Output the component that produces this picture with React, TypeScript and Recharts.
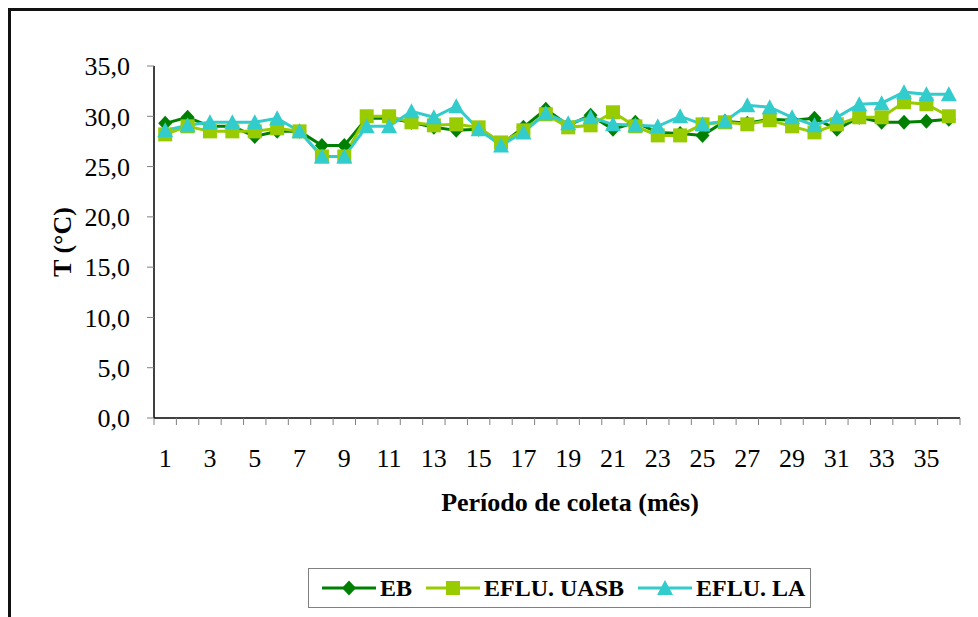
import { LineChart, Line, XAxis, YAxis, Label } from 'recharts'

const months = [
  1, 2, 3, 4, 5, 6, 7, 8, 9, 10, 11, 12, 13, 14, 15, 16, 17, 18,
  19, 20, 21, 22, 23, 24, 25, 26, 27, 28, 29, 30, 31, 32, 33, 34, 35, 36,
]

const eb = [
  29.3, 29.9, 29.0, 29.0, 28.0, 28.5, 28.5, 27.1, 27.1, 29.8, 29.8, 29.4,
  28.9, 28.6, 28.7, 27.2, 28.9, 30.7, 29.1, 30.1, 28.7, 29.4, 28.4, 28.3,
  28.1, 29.5, 29.3, 29.7, 29.6, 29.8, 28.7, 29.9, 29.4, 29.4, 29.5, 29.7,
]

const efluUasb = [
  28.2, 29.0, 28.5, 28.5, 28.5, 28.8, 28.5, 26.0, 26.0, 30.0, 30.0, 29.4,
  29.1, 29.2, 28.9, 27.4, 28.6, 30.2, 28.9, 29.1, 30.4, 29.0, 28.1, 28.1,
  29.2, 29.4, 29.2, 29.6, 29.0, 28.4, 29.2, 29.9, 29.9, 31.4, 31.2, 30.0,
]

const efluLa = [
  28.6, 29.1, 29.4, 29.4, 29.4, 29.8, 28.5, 26.0, 26.0, 29.0, 29.0, 30.5,
  29.9, 31.0, 28.7, 27.1, 28.4, 30.3, 29.3, 29.9, 29.2, 29.1, 29.0, 30.0,
  29.2, 29.5, 31.1, 30.9, 29.9, 29.1, 29.9, 31.2, 31.3, 32.4, 32.2, 32.2,
]

const xLabelTicks = [1, 3, 5, 7, 9, 11, 13, 15, 17, 19, 21, 23, 25, 27, 29, 31, 33, 35]
const yTicks = [0, 5, 10, 15, 20, 25, 30, 35]

const data = months.map((m, i) => ({ mes: m, eb: eb[i], uasb: efluUasb[i], la: efluLa[i] }))

// tick marks sit between the categories, labels on every other category
const boundaryTicks = [...months.map((m) => m - 0.5), months[months.length - 1] + 0.5]
const xTicks = [...boundaryTicks, ...xLabelTicks]

const FONT = '"Liberation Serif", "Times New Roman", serif'

type Shape = 'diamond' | 'square' | 'triangle'

const series: { key: string; name: string; color: string; shape: Shape }[] = [
  { key: 'eb', name: 'EB', color: '#008000', shape: 'diamond' },
  { key: 'uasb', name: 'EFLU. UASB', color: '#99CC00', shape: 'square' },
  { key: 'la', name: 'EFLU. LA', color: '#33CCCC', shape: 'triangle' },
]

function marker(shape: Shape, cx: number, cy: number, color: string, key?: any) {
  if (shape === 'diamond') {
    return (
      <path
        key={key}
        d={`M${cx},${cy - 7.5}L${cx + 7},${cy}L${cx},${cy + 7.5}L${cx - 7},${cy}Z`}
        fill={color}
      />
    )
  }
  if (shape === 'square') {
    return <rect key={key} x={cx - 7} y={cy - 7} width={14} height={14} fill={color} />
  }
  return (
    <path
      key={key}
      d={`M${cx},${cy - 8}L${cx + 8},${cy + 7}L${cx - 8},${cy + 7}Z`}
      fill={color}
    />
  )
}

function XTick(props: any) {
  const { x, y, payload } = props
  const v = payload.value
  if (Number.isInteger(v)) {
    return (
      <text x={x} y={y + 49} textAnchor="middle" fontFamily={FONT} fontSize={26} fill="#000">
        {v}
      </text>
    )
  }
  return <line x1={x} x2={x} y1={y} y2={y + 7} stroke="#808080" strokeWidth={1} />
}

function ChartLegend() {
  return (
    <div
      style={{
        position: 'absolute',
        left: 308,
        top: 568,
        width: 503,
        height: 40,
        border: '1px solid #808080',
        background: '#fff',
        display: 'flex',
        alignItems: 'center',
        paddingLeft: 13,
        boxSizing: 'border-box',
        fontFamily: FONT,
        fontWeight: 'bold',
        fontSize: 24,
        color: '#000',
        whiteSpace: 'nowrap',
        overflow: 'visible',
      }}
    >
      {series.map((s) => (
        <div
          key={s.key}
          style={{ display: 'flex', alignItems: 'center', marginRight: 14, flexShrink: 0 }}
        >
          <svg width={54} height={20} style={{ marginRight: 4, flexShrink: 0 }}>
            <line x1={0} x2={54} y1={10} y2={10} stroke={s.color} strokeWidth={3} />
            {marker(s.shape, 27, 10, s.color)}
          </svg>
          <span>{s.name}</span>
        </div>
      ))}
    </div>
  )
}

export default function App() {
  return (
    <div style={{ position: 'relative', width: 978, height: 617, overflow: 'hidden', background: '#fff' }}>
      <style>{`body{margin:0}`}</style>
      <div
        style={{
          position: 'absolute',
          left: 8,
          top: 8,
          width: 1100,
          height: 800,
          border: '3px solid #111',
        }}
      />
      <div style={{ position: 'absolute', left: 0, top: 0 }}>
        <LineChart
          width={978}
          height={617}
          data={data}
          margin={{ top: 66, right: 18, left: 84, bottom: 139 }}
        >
          <XAxis
            dataKey="mes"
            type="number"
            domain={[0.5, 36.5]}
            ticks={xTicks}
            interval={0}
            tickSize={0}
            tickMargin={0}
            tickLine={false}
            tick={<XTick />}
            axisLine={{ stroke: '#000', strokeWidth: 1.5 }}
            height={60}
          >
            <Label
              content={() => (
                <text
                  x={570}
                  y={511}
                  textAnchor="middle"
                  fontFamily={FONT}
                  fontWeight="bold"
                  fontSize={26}
                  fill="#000"
                >
                  Período de coleta (mês)
                </text>
              )}
            />
          </XAxis>
          <YAxis
            domain={[0, 35]}
            ticks={yTicks}
            interval={0}
            width={70}
            tickSize={7}
            tickMargin={17}
            tickLine={{ stroke: '#808080' }}
            axisLine={{ stroke: '#000', strokeWidth: 1.5 }}
            tick={{ fill: '#000', fontSize: 26, fontFamily: FONT }}
            tickFormatter={(v: number) => v.toFixed(1).replace('.', ',')}
          >
            <Label
              content={(p: any) => {
                const vb = p.viewBox
                const cy = vb.y + vb.height / 2
                return (
                  <text
                    x={62}
                    y={cy}
                    transform={`rotate(-90, 62, ${cy})`}
                    textAnchor="middle"
                    dominantBaseline="central"
                    fontFamily={FONT}
                    fontWeight="bold"
                    fontSize={26}
                    fill="#000"
                  >
                    T (°C)
                  </text>
                )
              }}
            />
          </YAxis>
          {series.map((s) => (
            <Line
              key={s.key}
              dataKey={s.key}
              name={s.name}
              type="linear"
              stroke={s.color}
              strokeWidth={3}
              dot={(p: any) => marker(s.shape, p.cx, p.cy, s.color, p.index)}
              activeDot={false}
              isAnimationActive={false}
            />
          ))}
        </LineChart>
      </div>
      <ChartLegend />
    </div>
  )
}
